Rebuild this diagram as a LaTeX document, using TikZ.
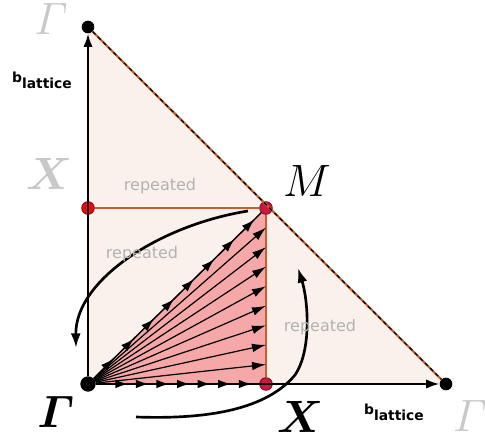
\RequirePackage{fix-cm}
\documentclass[tikz,border=0pt]{standalone}
\usepackage{amsmath,amssymb}
\usepackage{fontspec}
\setsansfont{DejaVu Sans}
\usepackage{xcolor}
\definecolor{bzbeige}{RGB}{250,241,237}
\definecolor{bzpink}{RGB}{246,168,168}
\definecolor{bzbrown}{RGB}{196,96,44}
\definecolor{bzred}{RGB}{236,10,10}
\definecolor{bzcrimson}{RGB}{206,22,62}
\definecolor{bzgray}{RGB}{200,200,200}
\definecolor{bztext}{RGB}{178,178,178}
\usetikzlibrary{arrows.meta,calc,backgrounds,decorations.markings}

\begin{document}
\begin{tikzpicture}[x=0.75pt, y=-0.75pt,
    dot/.style={circle, inner sep=0pt, minimum size=9.5pt},
    blackdot/.style={dot, fill=black},
    reddot/.style={dot, fill=bzred, draw=bzred!55!black, line width=0.6pt},
    crimsondot/.style={dot, fill=bzcrimson, draw=bzcrimson!55!black, line width=0.6pt},
    kptlabel/.style={inner sep=0pt, font=\fontsize{34}{38}\selectfont},
    replabel/.style={inner sep=0pt, text=bztext, font=\sffamily\fontsize{12}{14}\selectfont},
    axisline/.style={line width=1.6pt, -{Latex[length=10pt,width=7pt]}},
    edgeline/.style={bzbrown, line width=1.5pt},
    hypline/.style={draw=black, line width=0.9pt, dash pattern=on 3pt off 2.5pt,
      preaction={draw=bzbrown, line width=1.6pt, solid}},
    fanline/.style={line width=0.9pt, -{Latex[length=10.5pt,width=6.5pt]}},
    kbottom/.style={postaction={decorate, decoration={markings,
      mark=between positions 0.2 and 0.96 step 0.126 with {\arrow{Latex[length=10pt,width=6.5pt]}}}}},
    kdiag/.style={postaction={decorate, decoration={markings,
      mark=between positions 0.12 and 0.97 step 0.12 with {\arrow{Latex[length=10pt,width=6.5pt]}}}}},
    swoop/.style={line width=2pt, -{Latex[length=11pt,width=7.5pt]}}]
  \useasboundingbox (0,0) rectangle (485,441);

  % k-points
  \node[blackdot, minimum size=11.5pt] (G) at (88,384) {};
  \node[blackdot] (Gtop) at (88,27) {};
  \node[blackdot] (Gright) at (446,384) {};
  \node[reddot] (Xl) at (88,208) {};
  \node[crimsondot] (M) at (266,208) {};
  \node[crimsondot] (X) at (266,384) {};

  % zone fills
  \begin{pgfonlayer}{background}
    \fill[bzbeige] (G.center) -- (Gright.center) -- (Gtop.center) -- cycle;
    \fill[bzpink] (G.center) -- (X.center) -- (M.center) -- cycle;
  \end{pgfonlayer}

  % zone edges
  \draw[edgeline] (Xl) -- (M);
  \draw[edgeline] (X) -- (M);
  \draw[hypline] (Gtop) -- (Gright);

  % reciprocal lattice vectors
  \draw[axisline] (G) -- (Gtop);
  \draw[axisline] (G) -- (Gright);

  % sampled k-paths
  \foreach \k in {1,...,8} {
    \coordinate (e\k) at ($(X)!\k/9!(M)$);
    \draw[fanline] (G) -- (e\k);
  }
  \draw[line width=1.6pt, kbottom] (G) -- (X);
  \draw[line width=1.1pt, kdiag] (G) -- (M);

  % symmetry arrows
  \coordinate (s1a) at (248,211);
  \coordinate (s1b) at (76,348);
  \draw[swoop] (s1a) .. controls (160,225) and (75,280) .. (s1b);
  \coordinate (s2a) at (136,417);
  \coordinate (s2m) at (295,375);
  \coordinate (s2b) at (298,268);
  \draw[swoop] (s2a) .. controls (220,420) and (270,405) .. (s2m)
    .. controls (312,350) and (308,300) .. (s2b);

  % point labels
  \node[kptlabel, text=bzgray] (lGtop) at (51,19) {$\varGamma$};
  \node[kptlabel, text=bzgray] (lXl) at (49,174) {$\boldsymbol{X}$};
  \node[kptlabel] (lM) at (307,181) {$M$};
  \node[kptlabel] (lG) at (56,412) {$\boldsymbol{\varGamma}$};
  \node[kptlabel] (lX) at (300,417) {$\boldsymbol{X}$};
  \node[kptlabel, text=bzgray] (lGright) at (470,416) {$\varGamma$};

  % vector labels
  \node[inner sep=0pt, font=\sffamily\bfseries\fontsize{10.4}{12}\selectfont] (bvert) at (42,80)
    {b\raisebox{-4.5pt}{lattice}};
  \node[inner sep=0pt, font=\sffamily\bfseries\fontsize{10.4}{12}\selectfont] (bhorz) at (394,412)
    {b\raisebox{-4.5pt}{lattice}};

  % repeated zones
  \node[replabel] (rep1) at (160,186) {repeated};
  \node[replabel] (rep2) at (142,254) {repeated};
  \node[replabel] (rep3) at (320,327) {repeated};
\end{tikzpicture}
\end{document}
